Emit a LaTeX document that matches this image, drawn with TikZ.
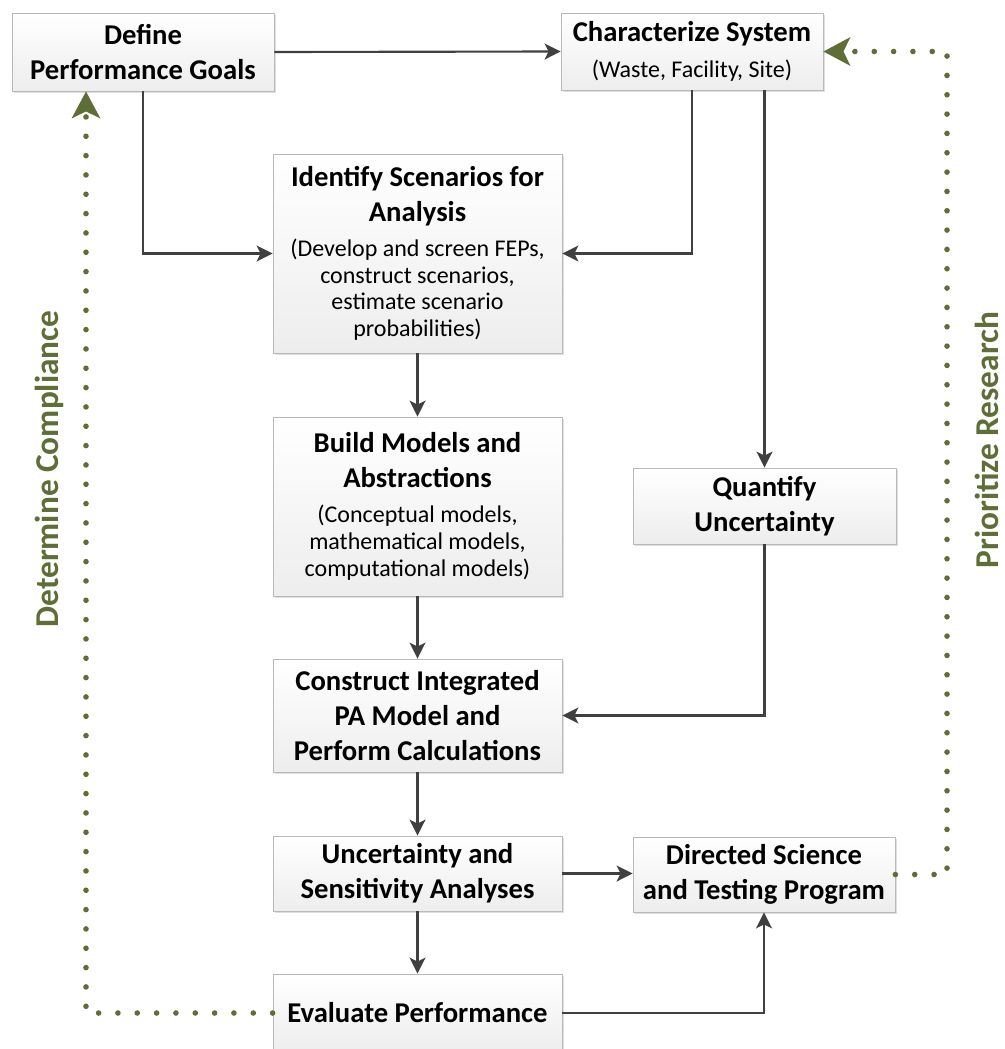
\documentclass[tikz,border=0pt]{standalone}
\usepackage{fontspec}
\setmainfont{Carlito}
\usetikzlibrary{arrows.meta,shadows}
\definecolor{pagreen}{HTML}{5F6E37}
\definecolor{linegray}{HTML}{404040}
\newcommand{\hdfont}{\fontsize{21.5}{26}\selectfont\bfseries}
\newcommand{\smfont}{\fontsize{18}{20}\selectfont\mdseries}
\newcommand{\subtext}[1]{\par\vspace{6.5pt}\smfont #1\par}
\begin{document}
\begin{tikzpicture}[x=0.75pt, y=-0.75pt,
	box/.style={draw=gray!55, line width=0.6pt, top color=white, bottom color=gray!14, drop shadow={opacity=0.25, shadow xshift=1.5pt, shadow yshift=-1.5pt}, align=flush center, inner sep=0pt, font=\hdfont},
	conn/.style={draw=linegray, line width=1.6pt, -{Stealth[length=12pt, width=12pt, inset=3pt]}},
	fb/.style={draw=pagreen, line width=4.2pt, line cap=round, dash pattern=on 0pt off 14.5pt, -{Stealth[length=20pt, width=21pt, inset=5pt]}},
	lbl/.style={text=pagreen, font=\fontsize{25}{28}\selectfont\bfseries, inner sep=0pt, anchor=base}]
	\useasboundingbox (0,0) rectangle (1005,1049);
	\node[box, minimum width=196.5pt, text width=196.5pt, minimum height=58.5pt] (define) at (143,52) {Define\\Performance Goals};
	\node[box, minimum width=196.5pt, text width=196.5pt, minimum height=57.75pt] (char) at (692,51.5) {Characterize System\subtext{(Waste, Facility, Site)}};
	\node[box, minimum width=216.75pt, text width=216.75pt, minimum height=149.25pt] (ident) at (417.5,253.5) {Identify Scenarios for\\Analysis\subtext{(Develop and screen FEPs,\\construct scenarios,\\estimate scenario\\probabilities)}};
	\node[box, minimum width=216.75pt, text width=216.75pt, minimum height=134.25pt] (build) at (417.5,506.5) {Build Models and\\Abstractions\subtext{(Conceptual models,\\mathematical models,\\computational models)}};
	\node[box, minimum width=197.25pt, text width=197.25pt, minimum height=57pt] (quant) at (764.5,506) {Quantify\\Uncertainty};
	\node[box, minimum width=216.75pt, text width=216.75pt, minimum height=84.75pt] (cons) at (417.5,715.5) {Construct Integrated\\PA Model and\\Perform Calculations};
	\node[box, minimum width=216.75pt, text width=216.75pt, minimum height=56.25pt] (unc) at (417.5,873.5) {Uncertainty and\\Sensitivity Analyses};
	\node[box, minimum width=196.5pt, text width=196.5pt, minimum height=56.25pt] (dir) at (764,874.5) {Directed Science\\and Testing Program};
	\node[box, minimum width=216.75pt, text width=216.75pt, minimum height=58.5pt] (eval) at (417.5,1013) {Evaluate Performance};
	\node[lbl, rotate=90] (comply) at (58,469) {Determine Compliance};
	\node[lbl, rotate=90] (prio) at (998,440) {Prioritize Research};
	\coordinate (leftturn) at (86,0);
	\coordinate (rightturn) at (947,0);
	\draw[conn] (define.east) -- (char.west);
	\draw[conn] (define.south) |- (ident.west);
	\draw[conn] (char.south) |- (ident.east);
	\draw[conn] (quant.north |- char.south) -- (quant.north);
	\draw[conn] (ident) -- (build);
	\draw[conn] (build) -- (cons);
	\draw[conn] (quant.south) |- (cons.east);
	\draw[conn] (cons) -- (unc);
	\draw[conn] (unc) -- (eval);
	\draw[conn] (unc.east) -- (unc.east -| dir.west);
	\draw[conn] (eval.east) -| (dir.south);
	\draw[fb] (eval.west) -| (leftturn |- define.south);
	\draw[fb] (dir.east) -| (rightturn |- char.east) -- (char.east);
\end{tikzpicture}
\end{document}
